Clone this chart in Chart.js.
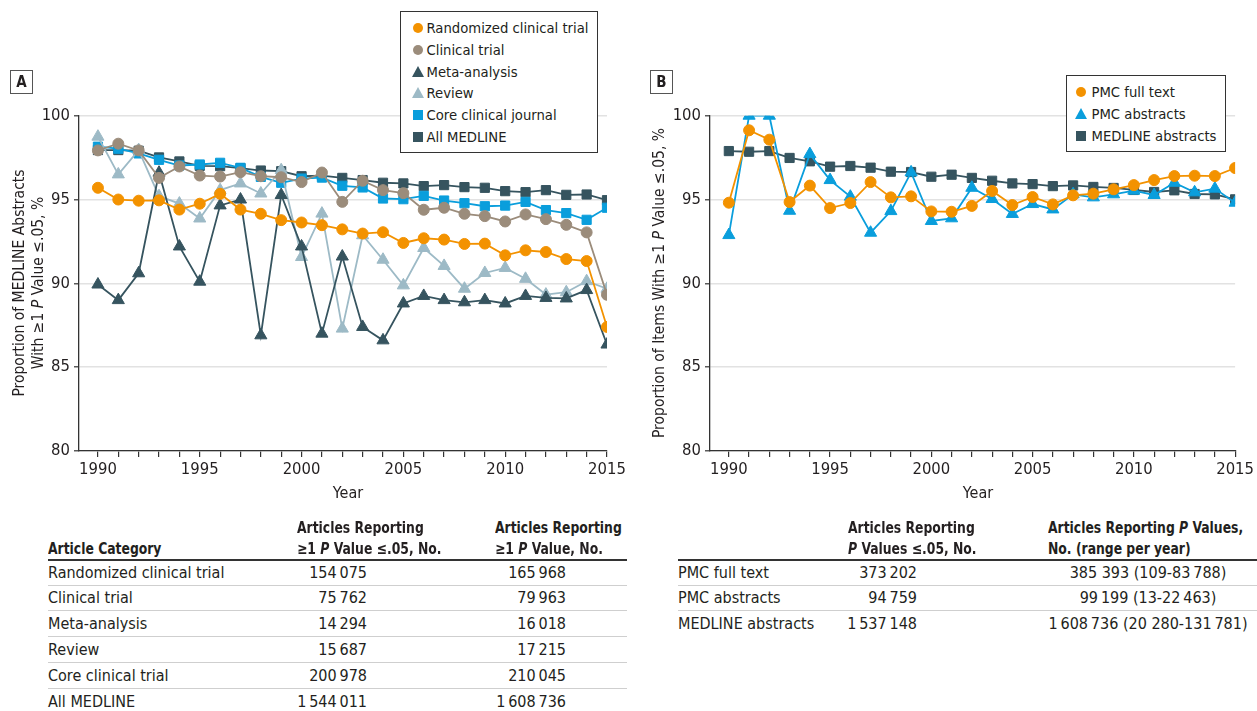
<!DOCTYPE html>
<html><head><meta charset="utf-8">
<script src="https://cdn.jsdelivr.net/npm/chart.js@4.4.1/dist/chart.umd.min.js"></script>
<style>
html,body{margin:0;padding:0;}
body{width:1257px;height:711px;background:#fff;position:relative;overflow:hidden;font-family:"Liberation Sans Narrow","DejaVu Sans Condensed","Roboto",sans-serif;color:#231f20;}
.abs{position:absolute;white-space:nowrap;}
.cv{position:absolute;}
.legend{position:absolute;border:1.5px solid #333;box-sizing:border-box;background:#fff;}
.lg-item{position:absolute;font-size:14.7px;line-height:20px;white-space:nowrap;}
.mk{position:absolute;}
.panel{position:absolute;width:23px;height:24px;border:1.3px solid #555;box-sizing:border-box;font-weight:bold;font-size:15px;text-align:center;line-height:22px;font-family:"DejaVu Sans Condensed","Liberation Sans",sans-serif;}
.ytitle{position:absolute;transform:translate(-50%,-50%) rotate(-90deg);font-size:15.5px;line-height:19px;text-align:center;white-space:nowrap;}
.hd{font-weight:bold;}
.rule{position:absolute;}
</style>
</head><body>
<canvas id="cA" class="cv" width="630" height="500" style="left:0;top:0;"></canvas>
<canvas id="cB" class="cv" width="627" height="500" style="left:630px;top:0;"></canvas>
<div class="panel" style="left:10px;top:70px;">A</div>
<div class="panel" style="left:650px;top:70px;">B</div>
<div class="ytitle" style="left:29px;top:283px;">Proportion of MEDLINE Abstracts<br>With ≥1 <i>P</i> Value ≤.05, %</div>
<div class="ytitle" style="left:659px;top:283px;">Proportion of Items With ≥1 <i>P</i> Value ≤.05, %</div>
<div class="abs" style="left:348px;top:483px;font-size:16px;line-height:20px;transform:translateX(-50%);">Year</div>
<div class="abs" style="left:978px;top:483px;font-size:16px;line-height:20px;transform:translateX(-50%);">Year</div>
<div id="legA" class="legend" style="left:400px;top:11px;width:198px;height:142px;"></div>
<div id="legB" class="legend" style="left:1066px;top:75px;width:160px;height:77px;"></div>
<div id="tables"></div>
<script>
// ---------- DATA ----------
const years = [1990,1991,1992,1993,1994,1995,1996,1997,1998,1999,2000,2001,2002,2003,2004,2005,2006,2007,2008,2009,2010,2011,2012,2013,2014,2015];
const yTicks = [80,85,90,95,100];
const xTickLabels = [1990,1995,2000,2005,2010,2015];

// Panel A
const rctValues      = [95.7,95.0,94.93,94.95,94.4,94.75,95.34,94.4,94.15,93.77,93.63,93.47,93.22,92.97,93.05,92.41,92.69,92.61,92.35,92.37,91.67,91.97,91.87,91.45,91.33,87.4];
const clinicalValues = [97.93,98.33,97.93,96.29,96.97,96.43,96.37,96.63,96.39,96.33,96.04,96.61,94.86,96.12,95.56,95.38,94.39,94.51,94.15,94.01,93.69,94.11,93.83,93.49,93.04,89.32];
const metaValues     = [89.93,89.0,90.6,96.6,92.2,90.1,94.65,95.0,86.9,95.27,92.2,87.0,91.6,87.4,86.6,88.8,89.25,89.0,88.87,89.0,88.8,89.25,89.13,89.1,89.6,86.35];
const reviewValues   = [98.75,96.5,97.95,95.2,94.76,93.87,95.56,95.96,95.36,96.75,91.57,94.16,87.3,92.87,91.41,89.88,92.11,91.04,89.68,90.62,90.92,90.27,89.33,89.47,90.13,89.68];
const coreValues     = [98.15,98.03,97.75,97.37,97.03,97.09,97.19,96.89,96.35,96.0,96.25,96.31,95.82,95.72,95.06,95.02,95.22,94.94,94.78,94.6,94.64,94.86,94.37,94.19,93.79,94.51];
const allMedlineValues=[97.95,97.95,97.91,97.51,97.27,97.01,96.99,96.87,96.73,96.69,96.39,96.43,96.29,96.16,96.0,95.96,95.8,95.86,95.74,95.7,95.5,95.44,95.56,95.28,95.3,94.96];

// Panel B
const pmcFullValues   = [94.81,99.13,98.57,94.85,95.83,94.49,94.79,96.04,95.13,95.19,94.29,94.27,94.62,95.51,94.67,95.15,94.71,95.25,95.35,95.61,95.86,96.16,96.4,96.42,96.4,96.88];
const pmcAbsValues    = [92.88,100,100,94.33,97.71,96.16,95.17,93.02,94.31,96.62,93.72,93.88,95.7,95.03,94.14,94.73,94.41,95.31,95.13,95.31,95.53,95.27,96.0,95.43,95.65,94.81];
const medlineAbsValues= [97.89,97.85,97.89,97.48,97.28,96.96,97.0,96.9,96.66,96.64,96.36,96.48,96.29,96.12,95.96,95.92,95.8,95.84,95.75,95.69,95.57,95.45,95.55,95.33,95.31,95.01];

const seriesNamesA = ["Randomized clinical trial","Clinical trial","Meta-analysis","Review","Core clinical journal","All MEDLINE"];
const seriesNamesB = ["PMC full text","PMC abstracts","MEDLINE abstracts"];

// Tables
const tableACategories = ["Randomized clinical trial","Clinical trial","Meta-analysis","Review","Core clinical trial","All MEDLINE"];
const tableASignificant = ["154\u2009075","75\u2009762","14\u2009294","15\u2009687","200\u2009978","1\u2009544\u2009011"];
const tableAReporting  = ["165\u2009968","79\u2009963","16\u2009018","17\u2009215","210\u2009045","1\u2009608\u2009736"];
const tableBSources = ["PMC full text","PMC abstracts","MEDLINE abstracts"];
const tableBSignificant = ["373\u2009202","94\u2009759","1\u2009537\u2009148"];
const tableBReporting = ["385 393 (109-83\u2009788)","99\u2009199 (13-22\u2009463)","1\u2009608\u2009736 (20 280-131\u2009781)"];

// ---------- STYLES ----------
const C_ORANGE="#F39200", C_BROWN="#9B8C7B", C_DARK="#36545F", C_LIGHT="#9DBAC6", C_BLUE="#0A9EDC";
const stylesA = [
  {c:C_ORANGE, s:"circle", r:5.5},
  {c:C_BROWN, s:"circle", r:5.5},
  {c:C_DARK, s:"triangle", r:7},
  {c:C_LIGHT, s:"triangle", r:7},
  {c:C_BLUE, s:"rect", r:6.5},
  {c:C_DARK, s:"rect", r:6.5}
];
const stylesB = [
  {c:C_ORANGE, s:"circle", r:5.5},
  {c:C_BLUE, s:"triangle", r:7},
  {c:C_DARK, s:"rect", r:6.5}
];
const FONT = '"Liberation Sans Narrow","DejaVu Sans Condensed",Roboto,sans-serif';
const TXT = "#231f20", AX="#333";

function mkDatasets(names, vals, styles){
  return names.map((n,i)=>({
    label:n,
    data: years.map((y,j)=>({x:y,y:vals[i][j]})),
    borderColor: styles[i].c, backgroundColor: styles[i].c,
    pointBackgroundColor: styles[i].c, pointBorderColor: styles[i].c,
    pointStyle: styles[i].s, pointRadius: styles[i].r, pointHoverRadius: styles[i].r,
    pointBorderWidth: 1, borderWidth: 1.8, tension: 0
  }));
}

function mkOptions(yWidth, padRight){
  return {
    responsive:false, animation:false, events:[],
    layout:{padding:{top:115.7,right:padRight,bottom:0,left:0}},
    plugins:{legend:{display:false},tooltip:{enabled:false},title:{display:false}},
    scales:{
      x:{type:'linear',min:1989.07,max:2015,
        afterBuildTicks:(ax)=>{ax.ticks = years.map(v=>({value:v}));},
        afterFit:(s)=>{s.height=49;},
        ticks:{autoSkip:false,maxRotation:0,padding:3,color:TXT,font:{family:FONT,size:16.5},
          callback:(v)=> xTickLabels.includes(v) ? String(v) : ''},
        grid:{drawOnChartArea:false,drawTicks:true,tickLength:6,color:AX,lineWidth:1.2},
        border:{display:true,color:AX,width:1.3}
      },
      y:{min:80,max:100,
        afterBuildTicks:(ax)=>{ax.ticks = yTicks.map(v=>({value:v}));},
        afterFit:(s)=>{s.width=yWidth;},
        ticks:{padding:4,color:TXT,font:{family:FONT,size:16.5}},
        grid:{color:'#e2e2e2',lineWidth:1.6,tickLength:5,tickColor:AX,tickWidth:1.2},
        border:{display:true,color:AX,width:1.3}
      }
    }
  };
}

new Chart(document.getElementById('cA'),{type:'line',
  data:{datasets:mkDatasets(seriesNamesA,[rctValues,clinicalValues,metaValues,reviewValues,coreValues,allMedlineValues],stylesA)},
  options:mkOptions(79,23)});
new Chart(document.getElementById('cB'),{type:'line',
  data:{datasets:mkDatasets(seriesNamesB,[pmcFullValues,pmcAbsValues,medlineAbsValues],stylesB)},
  options:mkOptions(80,18.3)});

// ---------- LEGENDS ----------
function marker(style){
  const d=document.createElement('div'); d.className='mk';
  if(style.s==='circle'){d.style.cssText+=`width:10px;height:10px;border-radius:50%;background:${style.c};margin-left:-5px;margin-top:-5px;`;}
  else if(style.s==='rect'){d.style.cssText+=`width:10px;height:10px;background:${style.c};margin-left:-5px;margin-top:-5px;`;}
  else {d.style.cssText+=`width:0;height:0;border-left:6px solid transparent;border-right:6px solid transparent;border-bottom:11px solid ${style.c};margin-left:-6px;margin-top:-6px;`;}
  return d;
}
function buildLegend(el, names, styles, rowYs, mx, tx){
  names.forEach((n,i)=>{
    const m=marker(styles[i]); m.style.left=mx+'px'; m.style.top=rowYs[i]+'px'; el.appendChild(m);
    const t=document.createElement('div'); t.className='lg-item'; t.textContent=n;
    t.style.left=tx+'px'; t.style.top=(rowYs[i]-10)+'px'; el.appendChild(t);
  });
}
buildLegend(document.getElementById('legA'), seriesNamesA, stylesA, [15.5,37.5,59.5,80.5,102.5,124.5], 16.5, 25.5);
buildLegend(document.getElementById('legB'), seriesNamesB, stylesB, [16,37.5,60], 14, 24.5);

// ---------- TABLES ----------
const host=document.getElementById('tables');
function txt(x,y,html,opt={}){
  const d=document.createElement('div'); d.className='abs'+(opt.bold?' hd':'');
  d.innerHTML=html;
  d.style.fontSize=(opt.size||16)+'px'; d.style.lineHeight='21px';
  d.style.top=(y-10.5)+'px';
  if(opt.align==='right'){d.style.left=(x-400)+'px';d.style.width='400px';d.style.textAlign='right';}
  else if(opt.align==='center'){d.style.left=(x-200)+'px';d.style.width='400px';d.style.textAlign='center';}
  else d.style.left=x+'px';
  if(opt.sx){d.style.transformOrigin='left center';d.style.transform=`scaleX(${opt.sx})`;}
  host.appendChild(d);
}
function line(x1,x2,y,color,w){
  const d=document.createElement('div'); d.className='rule';
  d.style.cssText=`left:${x1}px;top:${y-w/2}px;width:${x2-x1}px;height:${w}px;background:${color};`;
  host.appendChild(d);
}
const rowY0=572, rowStep=25.8, HS=0.86;
// Table A
txt(48,548,"Article Category",{bold:true,sx:HS});
txt(297,527,"Articles Reporting",{bold:true,sx:HS}); txt(297,548,"≥1 <i>P</i> Value ≤.05, No.",{bold:true,sx:HS});
txt(495,527,"Articles Reporting",{bold:true,sx:HS}); txt(495,548,"≥1 <i>P</i> Value, No.",{bold:true,sx:HS});
line(48,627,560,'#333',1.5);
tableACategories.forEach((c,i)=>{
  const y=rowY0+i*rowStep;
  txt(48,y,c); txt(367,y,tableASignificant[i],{align:'right'}); txt(566,y,tableAReporting[i],{align:'right'});
  if(i<tableACategories.length-1) line(48,627,y+13,'#cfcfcf',1);
});
// Table B
txt(848,527,"Articles Reporting",{bold:true,sx:HS}); txt(848,548,"<i>P</i> Values ≤.05, No.",{bold:true,sx:HS});
txt(1048,527,"Articles Reporting <i>P</i> Values,",{bold:true,sx:HS}); txt(1048,548,"No. (range per year)",{bold:true,sx:HS});
line(678,1257,560,'#333',1.5);
tableBSources.forEach((c,i)=>{
  const y=rowY0+i*rowStep;
  txt(678,y,c); txt(917,y,tableBSignificant[i],{align:'right'}); txt(1148,y,tableBReporting[i],{align:'center'});
  if(i<tableBSources.length-1) line(678,1257,y+13,'#cfcfcf',1);
});
</script>
</body></html>
